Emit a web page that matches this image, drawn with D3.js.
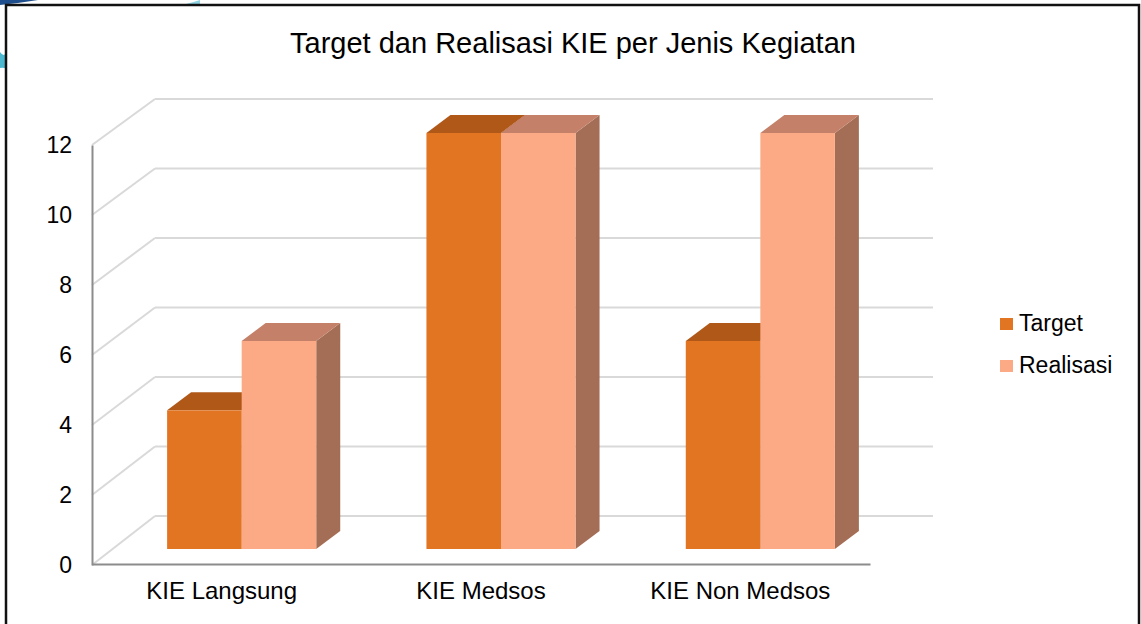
<!DOCTYPE html>
<html>
<head>
<meta charset="utf-8">
<script src="https://cdn.jsdelivr.net/npm/d3@7"></script>
<style>
  html, body { margin: 0; padding: 0; background: #fff; }
  svg { display: block; font-family: "Liberation Sans", Arial, sans-serif; }
</style>
</head>
<body>
<svg id="chart" width="1141" height="624"></svg>
<script>
// Chart data
const categories = ["KIE Langsung", "KIE Medsos", "KIE Non Medsos"];
const seriesNames = ["Target", "Realisasi"];
const targetValues = [4, 12, 6];
const realisasiValues = [6, 12, 12];
const yTicks = [0, 2, 4, 6, 8, 10, 12];
const titleText = "Target dan Realisasi KIE per Jenis Kegiatan";

const seriesValues = { Target: targetValues, Realisasi: realisasiValues };

// Face colours per series: front, top, side
const faceColors = {
  Target:    { front: "#E27522", top: "#B05818", side: "#A9551A" },
  Realisasi: { front: "#FCAA86", top: "#C48068", side: "#A46E56" }
};

const svg = d3.select("#chart");

// Decorative corner swoosh
const deco = svg.append("g");
deco.append("path").attr("d", "M0,0 L38,0 Q20,3 0,5 Z").attr("fill", "#1F4E8C");
deco.append("path").attr("d", "M0,52 Q4,58 7,52 L7,69 Q3,67 0,68 Z").attr("fill", "#4BB8CF");
deco.append("path").attr("d", "M186,4 Q194,2 200,0 L200,4 Z").attr("fill", "#8FD3E3");

// Chart frame
svg.append("rect")
  .attr("x", 6).attr("y", 5).attr("width", 1133).attr("height", 640)
  .attr("fill", "none").attr("stroke", "#111").attr("stroke-width", 2.5);

// Scales: front plane (axes), back wall, and the two bar planes
const xCat = d3.scaleBand().domain(categories).range([92, 870])
  .paddingInner(0.425).paddingOuter(0.2125);
const xSeries = d3.scaleBand().domain(seriesNames).range([0, xCat.bandwidth()]);
const yFront = d3.scaleLinear().domain([0, 12]).range([565, 145]);
const yBack = d3.scaleLinear().domain([0, 12]).range([516, 99]);
const yBarF = d3.scaleLinear().domain([0, 12]).range([549, 133]);
const yBarB = d3.scaleLinear().domain([0, 12]).range([531, 115]);
const wallLeft = 155, wallRight = 933;
const barShiftF = 20, barShiftB = 44;

// Gridlines: side wall diagonals and back wall horizontals
const grid = svg.append("g").attr("stroke", "#D9D9D9").attr("stroke-width", 2).attr("fill", "none");
grid.selectAll("line.side").data(yTicks).join("line").attr("class", "side")
  .attr("x1", 92).attr("y1", d => yFront(d))
  .attr("x2", wallLeft).attr("y2", d => yBack(d));
grid.selectAll("line.back").data(yTicks).join("line").attr("class", "back")
  .attr("x1", wallLeft).attr("y1", d => yBack(d))
  .attr("x2", wallRight).attr("y2", d => yBack(d));

// Axes
const yAxis = svg.append("g").attr("transform", "translate(92,0)")
  .call(d3.axisLeft(yFront).tickValues(yTicks).tickSize(0).tickSizeOuter(0).tickPadding(20));
yAxis.select(".domain").attr("stroke", "#8C8C8C").attr("stroke-width", 2);
yAxis.selectAll("text").attr("font-size", 23).attr("fill", "#000")
  .attr("font-family", "'Liberation Sans', Arial, sans-serif");

const xAxis = svg.append("g").attr("transform", "translate(0,564)")
  .call(d3.axisBottom(xCat).tickSize(0).tickSizeOuter(0).tickPadding(18));
xAxis.select(".domain").attr("stroke", "#8C8C8C").attr("stroke-width", 2);
xAxis.selectAll("text").attr("font-size", 24).attr("fill", "#000")
  .attr("font-family", "'Liberation Sans', Arial, sans-serif");

// 3D bars
const bars = svg.append("g");
categories.forEach((cat, i) => {
  seriesNames.forEach(s => {
    const v = seriesValues[s][i];
    const x0 = xCat(cat) + xSeries(s);
    const x1 = x0 + xSeries.bandwidth();
    const fx0 = x0 + barShiftF, fx1 = x1 + barShiftF;
    const bx0 = x0 + barShiftB, bx1 = x1 + barShiftB;
    const fTop = yBarF(v), fBot = yBarF(0);
    const bTop = yBarB(v), bBot = yBarB(0);
    const c = faceColors[s];
    const g = bars.append("g").attr("class", "bar " + s);
    // right side face
    g.append("path")
      .attr("d", `M${fx1},${fTop} L${bx1},${bTop} L${bx1},${bBot} L${fx1},${fBot} Z`)
      .attr("fill", c.side);
    // top face
    g.append("path")
      .attr("d", `M${fx0},${fTop} L${bx0},${bTop} L${bx1},${bTop} L${fx1},${fTop} Z`)
      .attr("fill", c.top);
    // front face
    g.append("rect")
      .attr("x", fx0).attr("y", fTop)
      .attr("width", fx1 - fx0).attr("height", fBot - fTop)
      .attr("fill", c.front);
  });
});

// Title
svg.append("text")
  .attr("x", 573).attr("y", 53)
  .attr("text-anchor", "middle")
  .attr("font-size", 29)
  .attr("fill", "#000")
  .text(titleText);

// Legend
const legend = svg.append("g");
seriesNames.forEach((s, i) => {
  const y = 318 + i * 42;
  legend.append("rect").attr("x", 1000).attr("y", y).attr("width", 13).attr("height", 12)
    .attr("fill", faceColors[s].front);
  legend.append("text").attr("x", 1019).attr("y", y + 13)
    .attr("font-size", 23).attr("fill", "#000").text(s);
});
</script>
</body>
</html>
